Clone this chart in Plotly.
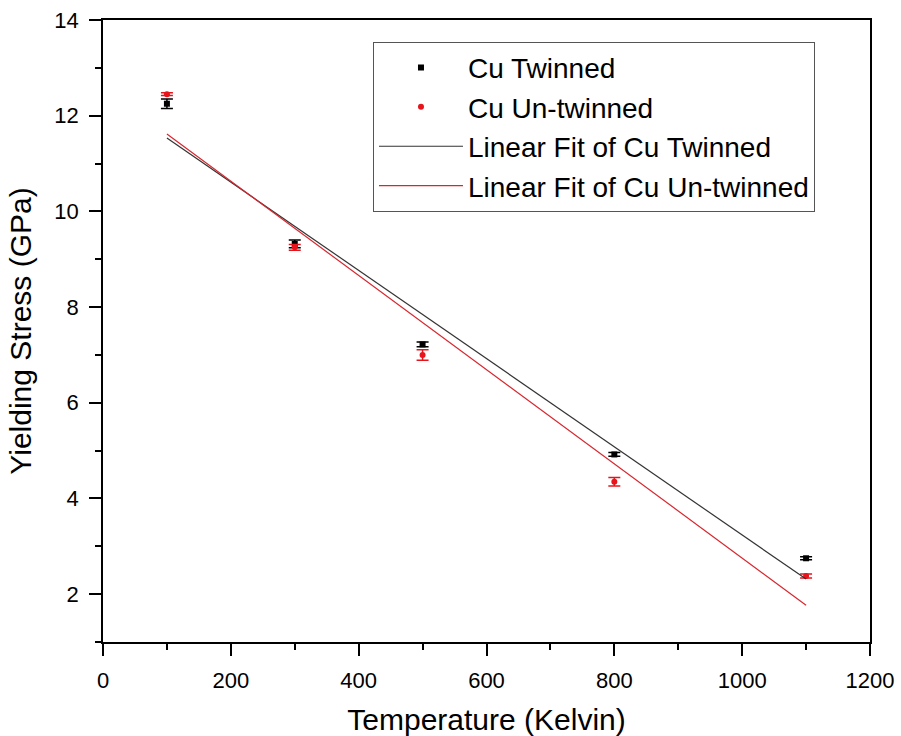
import numpy as np
import plotly.graph_objects as go

# Temperatures (K) and yield stress (GPa) for twinned / un-twinned copper
temperature = [100, 300, 500, 800, 1100]
twinned_stress = [12.25, 9.32, 7.22, 4.92, 2.75]
twinned_err = [0.10, 0.08, 0.05, 0.04, 0.03]
untwinned_stress = [12.45, 9.25, 7.00, 4.35, 2.38]
untwinned_err = [0.03, 0.06, 0.11, 0.09, 0.04]

x_ticks = [0, 200, 400, 600, 800, 1000, 1200]
y_ticks = [2, 4, 6, 8, 10, 12, 14]

FONT = "Liberation Sans, Arial, sans-serif"

# Least-squares linear fits over the measured range
t_arr = np.array(temperature, dtype=float)
fit_x = np.array([t_arr.min(), t_arr.max()])
tw_coef = np.polyfit(t_arr, twinned_stress, 1)
un_coef = np.polyfit(t_arr, untwinned_stress, 1)

fig = go.Figure()

fig.add_trace(go.Scatter(
    x=temperature, y=twinned_stress, mode="markers", name="Cu Twinned",
    marker=dict(symbol="square", size=6, color="black"),
    error_y=dict(type="data", array=twinned_err, color="black", thickness=1.5, width=6),
))
fig.add_trace(go.Scatter(
    x=temperature, y=untwinned_stress, mode="markers", name="Cu Un-twinned",
    marker=dict(symbol="circle", size=6, color="#e8141c"),
    error_y=dict(type="data", array=untwinned_err, color="#e8141c", thickness=1.5, width=6),
))
fig.add_trace(go.Scatter(
    x=fit_x, y=np.polyval(tw_coef, fit_x), mode="lines", name="Linear Fit of Cu Twinned",
    line=dict(color="#333333", width=1.2),
))
fig.add_trace(go.Scatter(
    x=fit_x, y=np.polyval(un_coef, fit_x), mode="lines", name="Linear Fit of Cu Un-twinned",
    line=dict(color="#d8262e", width=1.2),
))

axis_common = dict(
    showline=True, linecolor="black", linewidth=1.5, mirror=True,
    showgrid=False, zeroline=False, automargin=False,
    ticks="outside", ticklen=12, tickwidth=1.5, tickcolor="black",
    tickfont=dict(family=FONT, size=22, color="black"),
)

fig.update_xaxes(
    range=[0, 1200], tickvals=x_ticks, ticklabelstandoff=6,
    title=dict(text="Temperature (Kelvin)", font=dict(family=FONT, size=30, color="black"), standoff=20),
    minor=dict(dtick=100, ticks="outside", ticklen=6, tickwidth=1.5, tickcolor="black"),
    **axis_common,
)
fig.update_yaxes(
    range=[1, 14], tickvals=y_ticks, ticklabelstandoff=6,
    title=dict(text="Yielding Stress (GPa)", font=dict(family=FONT, size=30, color="black"), standoff=14),
    minor=dict(tick0=1, dtick=1, ticks="outside", ticklen=6, tickwidth=1.5, tickcolor="black"),
    **axis_common,
)

fig.update_layout(
    width=901, height=736,
    margin=dict(l=103, r=31, t=20, b=94),
    paper_bgcolor="white", plot_bgcolor="white",
    font=dict(family=FONT, color="black"),
    legend=dict(
        x=0.352, y=0.965, xanchor="left", yanchor="top",
        bgcolor="white", bordercolor="#555555", borderwidth=1,
        font=dict(family=FONT, size=28, color="black"),
        itemwidth=84, tracegroupgap=0,
    ),
    showlegend=True,
)

fig.write_html("out.html")
